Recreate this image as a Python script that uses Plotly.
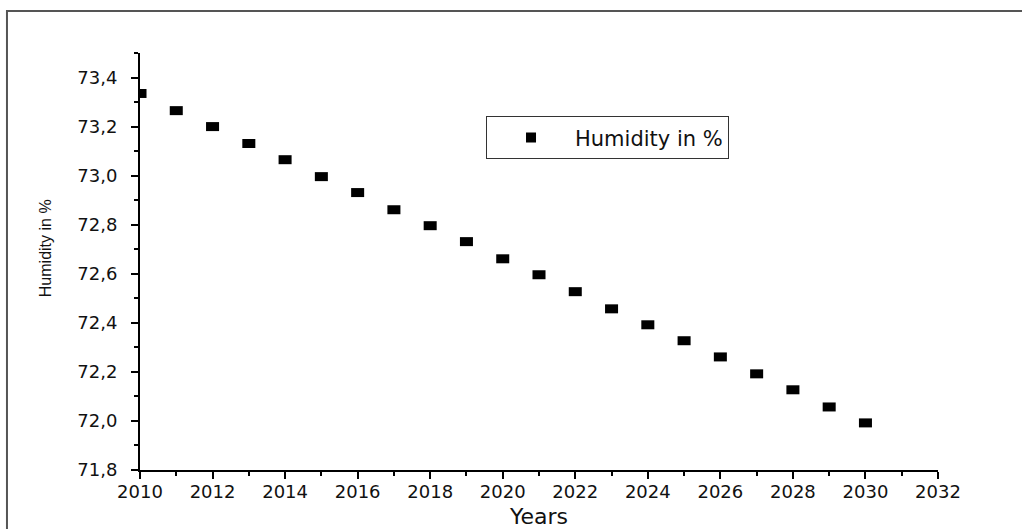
import plotly.graph_objects as go

# Projected relative humidity, one value per year
years = [2010, 2011, 2012, 2013, 2014, 2015, 2016, 2017, 2018, 2019, 2020,
         2021, 2022, 2023, 2024, 2025, 2026, 2027, 2028, 2029, 2030]
humidity = [73.335, 73.265, 73.200, 73.131, 73.065, 72.996, 72.931, 72.861,
            72.796, 72.731, 72.661, 72.596, 72.527, 72.457, 72.392, 72.327,
            72.261, 72.192, 72.127, 72.057, 71.992]

x_ticks = list(range(2010, 2033, 2))
y_ticks = [71.8, 72.0, 72.2, 72.4, 72.6, 72.8, 73.0, 73.2, 73.4]

series_name = "Humidity in %"
x_title = "Years"
y_title = "Humidity in %"

tick_font = dict(family="DejaVu Sans, Arial, sans-serif", size=18, color="#111")

fig = go.Figure()
# Data points: short thick horizontal bars give flat rectangular markers
fig.add_trace(go.Scatter(
    x=years, y=humidity, mode="markers", name=series_name,
    marker=dict(symbol="line-ew", size=9.3, color="black",
                line=dict(color="black", width=9)),
    cliponaxis=True, showlegend=False,
))
# Legend entry (no data of its own)
fig.add_trace(go.Scatter(
    x=[None], y=[None], mode="markers", name=series_name,
    marker=dict(symbol="square", size=10, color="black"),
    showlegend=True,
))

axis_common = dict(
    showline=True, linecolor="black", linewidth=2, mirror=False,
    showgrid=False, zeroline=False, automargin=False,
    ticks="outside", ticklen=7, tickwidth=2, tickcolor="black",
    tickfont=tick_font,
)

fig.update_xaxes(
    range=[2010, 2032], tickvals=x_ticks, ticktext=[str(v) for v in x_ticks],
    minor=dict(dtick=1, ticks="outside", ticklen=4, tickwidth=2, tickcolor="black"),
    ticklabelstandoff=-3,
    title=dict(text=x_title, standoff=23,
               font=dict(family="DejaVu Sans, Arial, sans-serif", size=22, color="#111")),
    **axis_common,
)
fig.update_yaxes(
    range=[71.8, 73.5], tickvals=y_ticks, tickformat=".1f",
    minor=dict(dtick=0.1, ticks="outside", ticklen=4, tickwidth=2, tickcolor="black"),
    ticklabelstandoff=10,
    **axis_common,
)

# Vertical axis title
fig.add_annotation(
    text=y_title, xref="paper", yref="paper", x=-0.119, y=0.532,
    xanchor="center", yanchor="middle", textangle=-90, showarrow=False,
    font=dict(family="Liberation Sans, Arial, sans-serif", size=16, color="#111"),
)

# Outer frame around the whole graph page
fig.add_shape(type="rect", xref="paper", yref="paper",
              x0=-0.1667, x1=1.3, y0=-0.4, y1=1.1007,
              line=dict(color="#555", width=2), fillcolor="rgba(0,0,0,0)",
              layer="below")

fig.update_layout(
    width=1022, height=529,
    margin=dict(l=140, r=84, t=53, b=59, autoexpand=False),
    paper_bgcolor="white", plot_bgcolor="white",
    separators=",.",
    showlegend=True,
    legend=dict(x=0.4336, y=0.848, xanchor="left", yanchor="top",
                bordercolor="#333", borderwidth=1, bgcolor="white",
                itemwidth=78,
                font=dict(family="DejaVu Sans, Arial, sans-serif", size=21, color="#111")),
)

fig.write_html("out.html")
